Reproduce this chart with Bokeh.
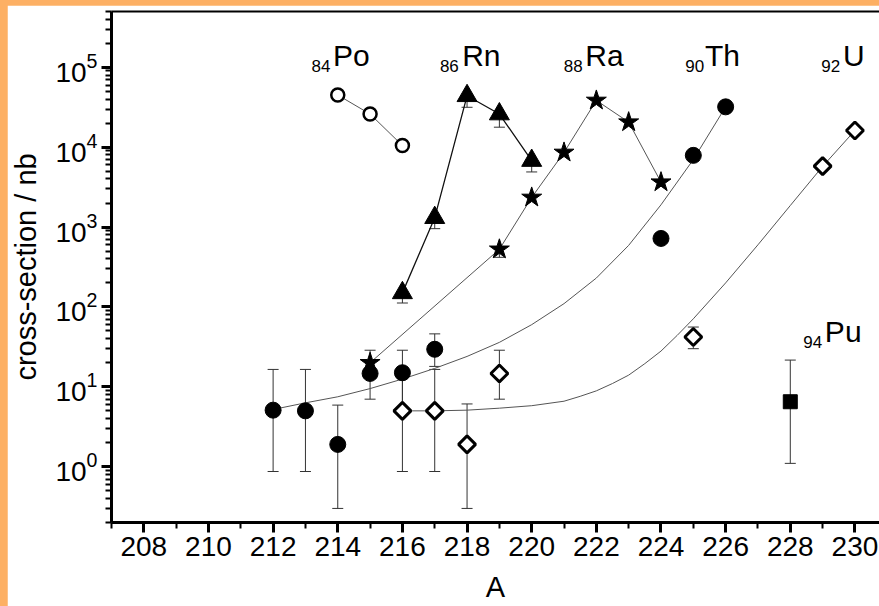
from bokeh.plotting import figure
from bokeh.models import (ColumnDataSource, Whisker, TeeHead, FixedTicker,
                          LinearAxis, Range1d)
from bokeh.layouts import column
from bokeh.core.properties import value
from bokeh.embed import file_html
from bokeh.resources import INLINE

# ---------------- data ----------------
# 84Po (open circles)
po_A = [214, 215, 216]
po_cs = [45000, 26000, 10500]

# 86Rn (filled triangles)
rn_A = [216, 217, 218, 219, 220]
rn_cs = [150, 1310, 44000, 26000, 6800]
rn_lo = [112, 955, 31600, 17800, 4900]

# 88Ra (stars)
ra_A = [215, 219, 220, 221, 222, 223, 224]
ra_cs = [20, 527, 2350, 8600, 38500, 20600, 3650]
ra_err_A = [219]
ra_err_lo = [418]
ra_err_hi = [527]

# 90Th (filled circles)
th_A = [212, 213, 214, 215, 216, 217, 224, 225, 226]
th_cs = [5.1, 5.0, 1.9, 14.7, 15, 29.5, 720, 7900, 32000]
th_err_A = [212, 213, 214, 215, 216, 217]
th_err_lo = [0.87, 0.87, 0.30, 7.0, 5.0, 18]
th_err_hi = [16.5, 16.5, 5.9, 28.7, 28.7, 46]
th_fit_A = [212, 213, 214, 215, 216, 217, 218, 219, 220, 221, 222, 223, 224, 225, 226]
th_fit_cs = [5.2, 6.3, 7.5, 9.5, 12.5, 17, 24, 36, 60, 110, 230, 590, 1900, 7000, 32000]

# 92U (open diamonds)
u_A = [216, 217, 218, 219, 225, 229, 230]
u_cs = [5.0, 5.0, 1.9, 14.7, 42, 5800, 16200]
u_err_A = [216, 217, 218, 219, 225]
u_err_lo = [0.87, 0.87, 0.30, 7.0, 30]
u_err_hi = [16.5, 16.5, 6.1, 28.7, 56]
u_fit_A = [216, 217, 218, 219, 220, 221, 221.5, 222, 222.5, 223, 223.5, 224, 224.5,
           225, 226, 227, 228, 229, 230]
u_fit_cs = [5.0, 5.0, 5.1, 5.4, 5.8, 6.6, 7.6, 8.9, 11, 14, 19.5, 28, 44,
            71, 200, 600, 1860, 5750, 16200]

# 94Pu (filled square)
pu_A = [228]
pu_cs = [6.5]
pu_err_lo = [1.1]
pu_err_hi = [21.6]

x_ticks = [208, 210, 212, 214, 216, 218, 220, 222, 224, 226, 228, 230]
x_minor = [207, 209, 211, 213, 215, 217, 219, 221, 223, 225, 227, 229, 231]

elements = ["Po", "Rn", "Ra", "Th", "U", "Pu"]
atomic_numbers = ["84", "86", "88", "90", "92", "94"]

# ---------------- figure ----------------
FONT = "Liberation Sans"
ORANGE = "#fdb064"

p = figure(width=872, height=601, y_axis_type="log",
           x_range=Range1d(207, 230.76), y_range=Range1d(0.2, 5e5),
           output_backend="svg", toolbar_location=None,
           min_border_left=103, min_border_right=0,
           min_border_top=6, min_border_bottom=84)
p.margin = (5, 0, 0, 7)
p.outline_line_color = None
p.xgrid.visible = False
p.ygrid.visible = False
p.background_fill_color = "white"
p.border_fill_color = "white"

for ax in (p.xaxis[0], p.yaxis[0]):
    ax.axis_line_width = 3
    ax.major_tick_line_width = 3
    ax.minor_tick_line_width = 2
    ax.major_tick_in = 0
    ax.minor_tick_in = 0
    ax.major_tick_out = 10
    ax.minor_tick_out = 6
    ax.major_label_text_font = FONT
    ax.major_label_text_font_size = "28px"
    ax.major_label_text_color = "black"
    ax.axis_label_text_font = FONT
    ax.axis_label_text_font_size = "29px"
    ax.axis_label_text_font_style = "normal"
    ax.axis_label_text_color = "black"

p.xaxis.ticker = FixedTicker(ticks=x_ticks, minor_ticks=x_minor)
p.xaxis.axis_label = "A"
p.xaxis.major_label_standoff = 4
p.xaxis.axis_label_standoff = 12
p.yaxis.axis_label = "cross-section / nb"
p.yaxis.major_label_standoff = 4
p.yaxis.axis_label_standoff = 10

# top frame line: an unlabeled axis above
top_ax = LinearAxis(ticker=FixedTicker(ticks=[]), axis_line_width=2,
                    major_tick_out=0, major_tick_in=0, minor_tick_out=0, minor_tick_in=0,
                    major_label_standoff=0, major_label_text_font_size="0px")
p.add_layout(top_ax, "above")

# ---------------- error bars ----------------
def whisk(A, lo, hi):
    src = ColumnDataSource(dict(A=A, lo=lo, hi=hi))
    w = Whisker(base="A", lower="lo", upper="hi", source=src, dimension="height",
                line_color="#333333", line_width=1, level="underlay",
                upper_head=TeeHead(size=11, line_color="#333333", line_width=1),
                lower_head=TeeHead(size=11, line_color="#333333", line_width=1))
    p.add_layout(w)

whisk(th_err_A, th_err_lo, th_err_hi)
whisk(u_err_A, u_err_lo, u_err_hi)
whisk(rn_A, rn_lo, rn_cs)
whisk(ra_err_A, ra_err_lo, ra_err_hi)
whisk(pu_A, pu_err_lo, pu_err_hi)

# ---------------- lines ----------------
p.line(po_A, po_cs, line_color="#555555", line_width=1)
p.line(rn_A, rn_cs, line_color="#111111", line_width=1.3)
p.line(ra_A, ra_cs, line_color="#555555", line_width=1)
p.line(th_fit_A, th_fit_cs, line_color="#555555", line_width=1)
p.line(u_fit_A, u_fit_cs, line_color="#555555", line_width=1)

# ---------------- markers ----------------
p.scatter(po_A, po_cs, marker="circle", size=13, fill_color="white",
          line_color="black", line_width=2.5)
p.scatter(rn_A, rn_cs, marker="triangle", size=20, fill_color="black", line_color="black")
p.scatter(ra_A, ra_cs, marker="star", size=21, fill_color="black", line_color="black")
p.scatter(th_A, th_cs, marker="circle", size=16, fill_color="black", line_color="black")
p.scatter(u_A, u_cs, marker="square", size=12, angle=0.785398, fill_color="white",
          line_color="black", line_width=3)
p.scatter(pu_A, pu_cs, marker="square", size=14, fill_color="black", line_color="black")

# ---------------- element labels ----------------
sym_x = [213.85, 217.85, 221.66, 225.36, 229.63, 229.07]
sym_y = [1.4e5, 1.4e5, 1.4e5, 1.4e5, 1.4e5, 48.7]
sub_x = [213.19, 217.16, 220.99, 224.75, 228.96, 228.40]
sub_y = [1.05e5, 1.05e5, 1.05e5, 1.05e5, 1.05e5, 36.5]
p.text(x=sym_x, y=sym_y, text=elements, text_font=value(FONT), text_font_size="30px",
       text_baseline="alphabetic", text_align="left", text_color="black")
p.text(x=sub_x, y=sub_y, text=atomic_numbers, text_font=value(FONT), text_font_size="17px",
       text_baseline="alphabetic", text_align="left", text_color="black")

page = column(p, width=879, height=606, styles={"background-color": ORANGE})

open("out.html", "w").write(file_html(page, INLINE))
